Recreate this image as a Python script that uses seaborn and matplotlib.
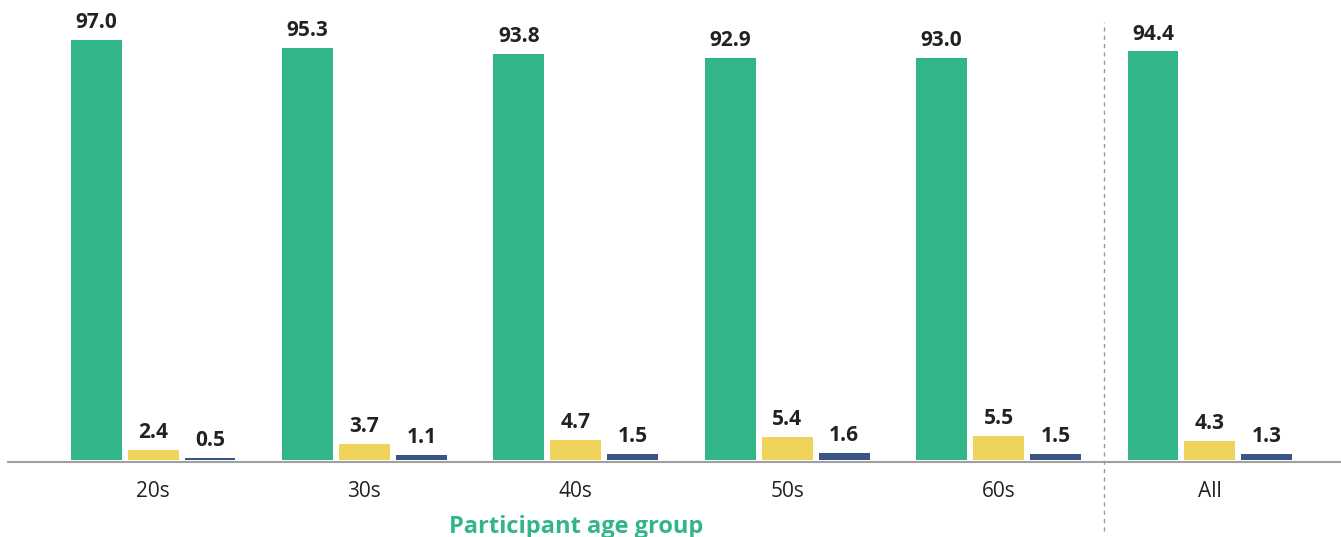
import pandas as pd
import matplotlib.pyplot as plt
import seaborn as sns

# Data
age_groups = ['20s', '30s', '40s', '50s', '60s', 'All']
series_names = ['A', 'B', 'C']
green_vals = [97.0, 95.3, 93.8, 92.9, 93.0, 94.4]
yellow_vals = [2.4, 3.7, 4.7, 5.4, 5.5, 4.3]
blue_vals = [0.5, 1.1, 1.5, 1.6, 1.5, 1.3]

rows = []
for name, vals in zip(series_names, [green_vals, yellow_vals, blue_vals]):
    for g, v in zip(age_groups, vals):
        rows.append({'group': g, 'series': name, 'value': v})
df = pd.DataFrame(rows)

sns.set_style('white')
plt.rcParams['font.family'] = ['Open Sans', 'DejaVu Sans']

palette = {'A': '#33b687', 'B': '#f0d35a', 'C': '#3a5486'}

fig = plt.figure(figsize=(13.41, 5.37), dpi=100)
ax = fig.add_axes([0.006, 0.1397, 0.994, 0.8603])

sns.barplot(data=df, x='group', y='value', hue='series', order=age_groups,
            hue_order=series_names, palette=palette, width=0.808, gap=0.105,
            saturation=1, linewidth=0, legend=False, ax=ax)

for cont in ax.containers:
    ax.bar_label(cont, fmt='%.1f', padding=5, fontsize=15, fontweight='bold',
                 color='#222222')

ax.set_xlim(-0.686, 5.62)
ax.set_ylim(-0.45, 106.3)
ax.set_yticks([])
ax.set_ylabel('')
for s in ['top', 'right', 'left']:
    ax.spines[s].set_visible(False)
ax.spines['bottom'].set_color('#a0a0a0')
ax.spines['bottom'].set_linewidth(1.5)

ax.tick_params(axis='x', length=0, pad=14, labelsize=15, labelcolor='#222222')
ax.set_xlabel('Participant age group', fontsize=17, fontweight='bold',
              color='#33b687')
# title sits under the 20s-60s groups, not the whole axis
ax.xaxis.set_label_coords((2 + 0.686) / (5.62 + 0.686), -0.115)

# dashed separator before "All"
ax.plot([4.5, 4.5], [-0.15, 0.952], transform=ax.get_xaxis_transform(),
        linestyle=(0, (3, 3)), color='#999999', linewidth=1, clip_on=False)

fig.savefig('out.png', dpi=100)
